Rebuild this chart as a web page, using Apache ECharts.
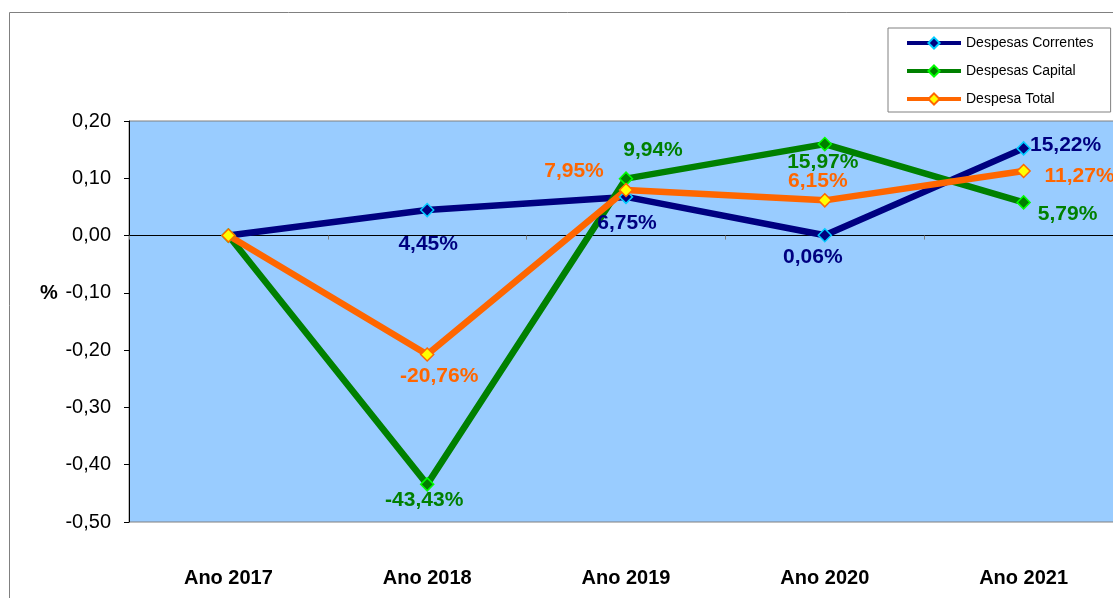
<!DOCTYPE html>
<html>
<head>
<meta charset="utf-8">
<script src="https://cdn.jsdelivr.net/npm/echarts@6/dist/echarts.min.js"></script>
<style>
  html, body { margin: 0; padding: 0; background: #ffffff; overflow: hidden; }
  #chart { width: 1124px; height: 598px; }
</style>
</head>
<body>
<div id="chart"></div>
<script>
// Year-on-year variation of expenditure (as fractions; labels show percent)
const categories = ['Ano 2017', 'Ano 2018', 'Ano 2019', 'Ano 2020', 'Ano 2021'];
const despesasCorrentes = [0, 0.0445, 0.0675, 0.0006, 0.1522];
const despesasCapital = [0, -0.4343, 0.0994, 0.1597, 0.0579];
const despesaTotal = [0, -0.2076, 0.0795, 0.0615, 0.1127];
const yTicks = { min: -0.5, max: 0.2, step: 0.1 };

const FONT = "'Liberation Sans', Arial, sans-serif";

// Label placement per point, [dx, dy] from the marker centre
const offsetsCorrentes = [null, [1, 34], [1, 26], [-12, 22], [42, -3]];
const offsetsCapital = [null, [-3, 16], [27, -28], [-2, 18], [44, 12]];
const offsetsTotal = [null, [12, 22], [-52, -19], [-7, -19], [56, 5]];

const pct = v => (v * 100).toFixed(2).replace('.', ',') + '%';

function buildData(values, offsets, color) {
  return values.map((v, i) => {
    const off = offsets[i];
    if (!off) return { value: v, label: { show: false } };
    return {
      value: v,
      label: {
        show: true,
        position: 'inside',
        offset: off,
        formatter: p => pct(p.value),
        color: color,
        fontFamily: FONT,
        fontWeight: 'bold',
        fontSize: 21
      }
    };
  });
}

function lineSeries(name, values, offsets, lineColor, fill, border, labelColor) {
  return {
    name: name,
    type: 'line',
    xAxisIndex: 0,
    data: buildData(values, offsets, labelColor),
    symbol: 'diamond',
    symbolSize: 13,
    showAllSymbol: true,
    lineStyle: { color: lineColor, width: 6.5 },
    itemStyle: { color: fill, borderColor: border, borderWidth: 1.5 },
    emphasis: { disabled: true },
    animation: false,
    z: 3
  };
}

const chart = echarts.init(document.getElementById('chart'), null, { renderer: 'canvas' });

chart.setOption({
  backgroundColor: '#ffffff',
  animation: false,
  graphic: [
    {
      type: 'rect',
      shape: { x: 9.5, y: 12.5, width: 1300, height: 800 },
      style: { fill: 'none', stroke: '#808080', lineWidth: 1 },
      z: -10
    },
    {
      type: 'text',
      left: 40,
      top: 283,
      style: { text: '%', font: 'bold 20px ' + FONT, fill: '#000000' }
    }
  ],
  legend: {
    orient: 'vertical',
    left: 888,
    top: 28,
    padding: [8, 17, 6, 17],
    backgroundColor: '#ffffff',
    borderColor: '#808080',
    borderWidth: 1,
    borderRadius: 0,
    itemWidth: 54,
    itemHeight: 14,
    itemGap: 14,
    selectedMode: false,
    textStyle: { fontFamily: FONT, fontSize: 14, color: '#000000' },
    data: [
      { name: 'Despesas Correntes', lineStyle: { width: 4 } },
      { name: 'Despesas Capital', lineStyle: { width: 4 } },
      { name: 'Despesa Total', lineStyle: { width: 4 } }
    ]
  },
  grid: {
    left: 129,
    top: 121,
    right: 1,
    height: 401,
    show: true,
    backgroundColor: '#99ccff',
    borderColor: '#808080',
    borderWidth: 1,
    containLabel: false
  },
  xAxis: [
    {
      type: 'category',
      data: categories,
      position: 'bottom',
      boundaryGap: true,
      axisLine: { show: false, onZero: false },
      axisTick: { show: false },
      splitLine: { show: false },
      axisLabel: {
        margin: 46,
        color: '#000000',
        fontFamily: FONT,
        fontWeight: 'bold',
        fontSize: 20
      }
    },
    {
      type: 'category',
      data: categories,
      position: 'bottom',
      boundaryGap: true,
      axisLine: { show: true, onZero: true, lineStyle: { color: '#000000', width: 1 } },
      axisTick: { show: true, length: 4, lineStyle: { color: '#808080' } },
      axisLabel: { show: false },
      splitLine: { show: false }
    }
  ],
  yAxis: {
    type: 'value',
    min: yTicks.min,
    max: yTicks.max,
    interval: yTicks.step,
    axisLine: { show: true, onZero: false, lineStyle: { color: '#000000', width: 1 } },
    axisTick: { show: true, length: 5, lineStyle: { color: '#000000' } },
    splitLine: { show: false },
    axisLabel: {
      margin: 18,
      color: '#000000',
      fontFamily: FONT,
      fontSize: 20,
      formatter: v => v.toFixed(2).replace('.', ',')
    }
  },
  series: [
    lineSeries('Despesas Correntes', despesasCorrentes, offsetsCorrentes, '#000080', '#000080', '#00ccff', '#000080'),
    lineSeries('Despesas Capital', despesasCapital, offsetsCapital, '#008000', '#008000', '#00ff00', '#008000'),
    lineSeries('Despesa Total', despesaTotal, offsetsTotal, '#ff6600', '#ffff00', '#ff6600', '#ff6600')
  ]
});
</script>
</body>
</html>
